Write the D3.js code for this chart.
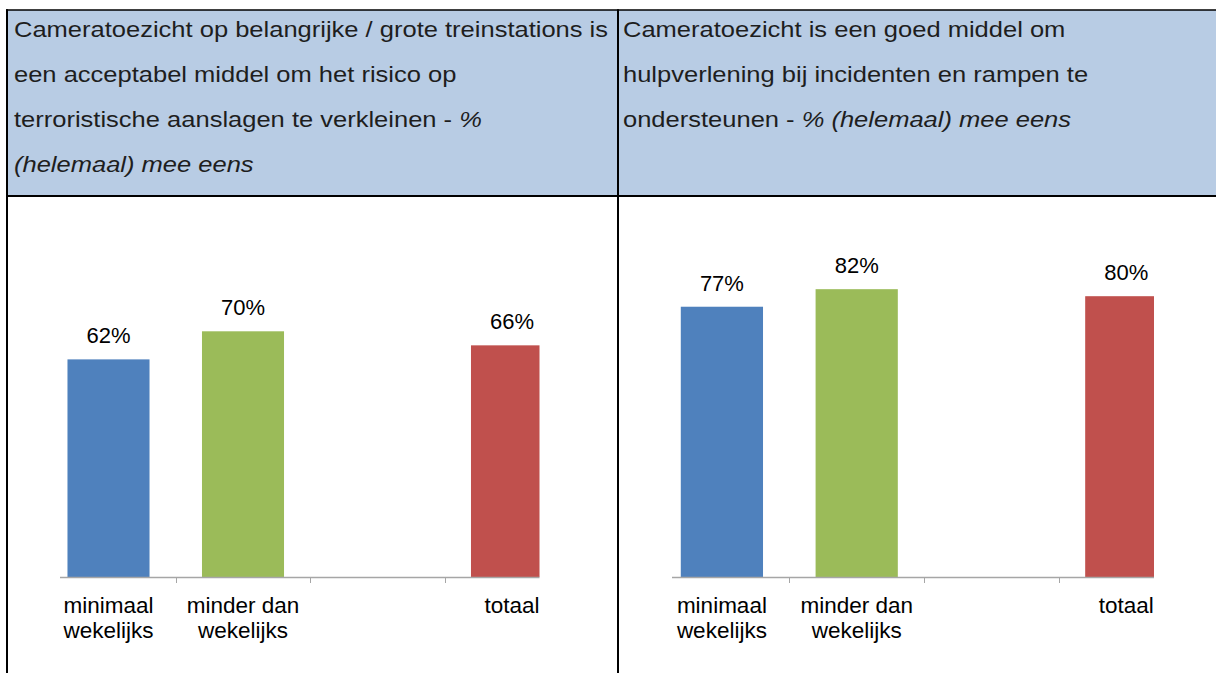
<!DOCTYPE html>
<html>
<head>
<meta charset="utf-8">
<script src="https://cdn.jsdelivr.net/npm/d3@7"></script>
<style>
  html, body { margin: 0; padding: 0; background: #ffffff; }
  svg { display: block; }
  text { font-family: "Liberation Sans", Arial, Helvetica, sans-serif; }
</style>
</head>
<body>
<svg id="chart" width="1216" height="673"></svg>
<script>
// ---- data ----
const headerLeft = [
  [{t: "Cameratoezicht op belangrijke / grote treinstations is"}],
  [{t: "een acceptabel middel om het risico op"}],
  [{t: "terroristische aanslagen te verkleinen - "}, {t: "%", i: true}],
  [{t: "(helemaal) mee eens", i: true}]
];
const headerRight = [
  [{t: "Cameratoezicht is een goed middel om"}],
  [{t: "hulpverlening bij incidenten en rampen te"}],
  [{t: "ondersteunen - "}, {t: "% (helemaal) mee eens", i: true}]
];
const categories = ["minimaal\nwekelijks", "minder dan\nwekelijks", "", "totaal"];
const valuesLeft = [62, 70, null, 66];
const valuesRight = [77, 82, null, 80];
const colors = ["#4f81bd", "#9bbb59", null, "#c0504d"];

// ---- layout ----
const W = 1216, H = 673;
const svg = d3.select("#chart");
svg.append("rect").attr("width", W).attr("height", H).attr("fill", "#fff");

const tableTop = 10, headerBottom = 196, tableLeft = 7, midX = 618;

// header fill
svg.append("rect").attr("x", tableLeft).attr("y", tableTop)
  .attr("width", W - tableLeft).attr("height", headerBottom - tableTop)
  .attr("fill", "#b8cce4");

const defs = svg.append("defs");

function header(lines, x0) {
  const g = svg.append("g").attr("transform", `translate(${x0},0) scale(1.16,1)`);
  lines.forEach((segs, li) => {
    const t = g.append("text").attr("x", 0).attr("y", 37 + li * 45)
      .attr("font-size", 22).attr("fill", "#1e1e1e");
    segs.forEach(s => {
      t.append("tspan").text(s.t).attr("font-style", s.i ? "italic" : "normal");
    });
  });
}
header(headerLeft, 14);
header(headerRight, 623);

const y = d3.scaleLinear().domain([0, 100]).range([577, 226]);

function panel(values, x0, step, clipL, clipR, id) {
  const x = d3.scaleBand().domain(d3.range(categories.length))
    .range([x0, x0 + step * categories.length])
    .paddingInner(0.39).paddingOuter(0.195);
  defs.append("clipPath").attr("id", id).append("rect")
    .attr("x", clipL).attr("y", 0).attr("width", clipR - clipL).attr("height", H);
  const g = svg.append("g").attr("clip-path", `url(#${id})`);
  const data = values.map((v, i) => ({v, i})).filter(d => d.v != null);
  g.selectAll("rect.bar").data(data).join("rect").attr("class", "bar")
    .attr("x", d => x(d.i)).attr("width", x.bandwidth())
    .attr("y", d => y(d.v)).attr("height", d => y(0) - y(d.v))
    .attr("fill", d => colors[d.i]);
  // axis line
  const gap = (x.step() - x.bandwidth()) / 2;
  g.append("line").attr("x1", x0).attr("x2", x0 + step * categories.length)
    .attr("y1", y(0) + 0.5).attr("y2", y(0) + 0.5)
    .attr("stroke", "#a6a6a6").attr("stroke-width", 1.5);
  d3.range(1, categories.length).forEach(i => {
    const bx = Math.round(x(i) - gap) + 0.5;
    g.append("line").attr("x1", bx).attr("x2", bx)
      .attr("y1", y(0)).attr("y2", y(0) + 6)
      .attr("stroke", "#a6a6a6").attr("stroke-width", 1);
  });
  // value labels
  g.selectAll("text.val").data(data).join("text").attr("class", "val")
    .attr("x", d => x(d.i) + x.bandwidth() / 2).attr("y", d => y(d.v) - 16)
    .attr("text-anchor", "middle").attr("font-size", 22).attr("fill", "#000")
    .text(d => d3.format("d")(d.v) + "%");
  // category labels
  categories.forEach((c, i) => {
    if (!c) return;
    const t = g.append("text").attr("text-anchor", "middle")
      .attr("font-size", 22.5).attr("fill", "#000");
    c.split("\n").forEach((ln, k) => {
      t.append("tspan").attr("x", x(i) + x.bandwidth() / 2)
        .attr("y", 613 + k * 25).text(ln);
    });
  });
}
panel(valuesLeft, 41.25, 134.5, 60, 539.5, "clipL");
panel(valuesRight, 654.5, 134.8, 672, 1154, "clipR");

// table borders
const bl = (x1, y1, x2, y2, w) => svg.append("line")
  .attr("x1", x1).attr("y1", y1).attr("x2", x2).attr("y2", y2)
  .attr("stroke", "#000").attr("stroke-width", w);
bl(tableLeft - 1, tableTop, W, tableTop, 1.5);
bl(tableLeft, tableTop - 0.75, tableLeft, H, 2);
bl(midX, tableTop - 0.75, midX, H, 2);
bl(tableLeft - 1, headerBottom, W, headerBottom, 2);
</script>
</body>
</html>
